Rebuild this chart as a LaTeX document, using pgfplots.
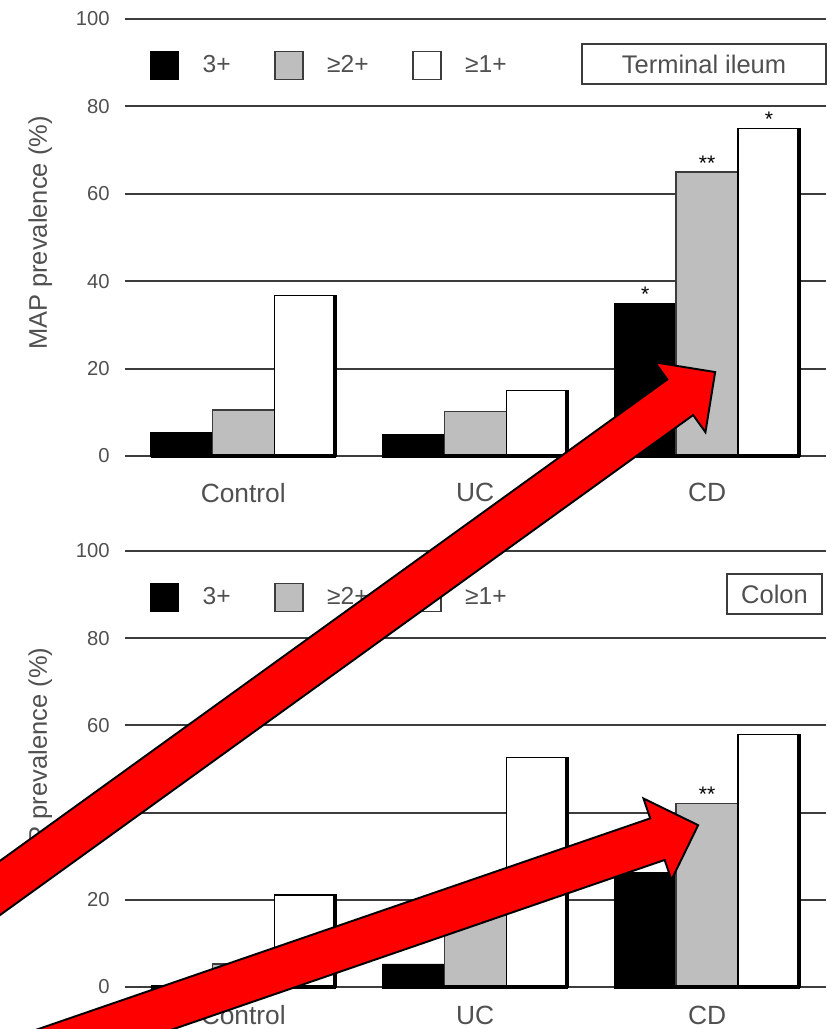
\documentclass[border=0pt]{standalone}
\usepackage{fontspec}
\setmainfont{Liberation Sans}
\usepackage{pgfplots}
\pgfplotsset{compat=1.18}
\usepackage{pgfplotstable}
\definecolor{txt}{HTML}{505050}
\definecolor{gridc}{HTML}{3C3C3C}
\definecolor{barg}{RGB}{190,190,190}

\pgfplotstableread{
x b g w
0 5.3 10.5 36.8
1 5 10.2 15
2 35 65 75
}\ileum
\pgfplotstableread{
x b g w
0 0 5.3 21.1
1 5.3 21.1 52.6
2 26.3 42.1 57.9
}\colon

\pgfplotsset{
 panel/.style={
   scale only axis, width=14.02cm,
   xmin=-0.51, xmax=2.513, ymin=0, ymax=100,
   ytick={0,20,...,100}, xtick={0,1,2}, xticklabels={Control,UC,CD},
   /pgf/number format/assume math mode=true,
   ymajorgrids, grid style={gridc, line width=1.2pt},
   axis line style={draw=none}, major tick length=0pt,
   tick label style={text=txt},
   yticklabel style={font=\fontsize{11.5}{13}\selectfont, inner sep=0pt, xshift=-0.3cm},
   xticklabel style={font=\fontsize{15}{17}\selectfont, inner sep=0pt},
   ylabel={MAP prevalence (\%)},
   ylabel style={font=\fontsize{14.5}{16}\selectfont, text=txt, at={(axis description cs:-0.121,0.51)}, anchor=center},
   clip=false,
   legend columns=3,
   legend style={draw=none, fill=none, inner sep=0pt, font=\fontsize{14}{16}\selectfont, text=txt,
     /tikz/every even column/.append style={column sep=0.8cm},
     /tikz/every odd column/.append style={column sep=0.4cm}},
   legend image code/.code={\draw[##1] (0cm,-0.28cm) rectangle (0.56cm,0.28cm);},
 }
}
\tikzset{
 boxlab/.style={draw=gridc, line width=1pt, minimum height=0.8cm, inner sep=0pt, text=txt, font=\fontsize{14.5}{16}\selectfont},
 star/.style={anchor=base, yshift=1pt, inner sep=0pt, font=\fontsize{12}{12}\selectfont}
}

\begin{document}
\begin{tikzpicture}
\useasboundingbox (0,0) rectangle (16.72cm,20.58cm);

% ---------- Terminal ileum ----------
\begin{axis}[panel, at={(2.5cm,11.46cm)}, anchor=south west, height=8.74cm,
  xticklabel style={yshift=-0.54cm},
  legend style={at={(axis description cs:0.0357,0.894)}, anchor=west}]
\addplot[ybar, bar width=0.267, bar shift=-0.267, fill=black, draw=black, forget plot] table[x=x,y=b]{\ileum};
\addplot[ybar, bar width=0.267, bar shift=0, fill=barg, draw=gridc, line width=0.7pt, forget plot] table[x=x,y=g]{\ileum};
\addplot[ybar, bar width=0.267, bar shift=0.267, fill=white, draw=black, line width=0.7pt, forget plot] table[x=x,y=w]{\ileum};
\addplot[ycomb, black, line width=2.2pt, mark=none, forget plot] table[x expr=\thisrow{x}+0.397, y=w]{\ileum};
\addplot[black, line width=2.2pt, forget plot] coordinates {(-0.4,0) (0.4,0)};
\addplot[black, line width=2.2pt, forget plot] coordinates {(0.6,0) (1.4,0)};
\addplot[black, line width=2.2pt, forget plot] coordinates {(1.6,0) (2.4,0)};
\addlegendimage{fill=black, draw=black}
\addlegendentry{3+}
\addlegendimage{fill=barg, draw=gridc, line width=0.8pt}
\addlegendentry{≥2+}
\addlegendimage{fill=white, draw=gridc, line width=0.8pt}
\addlegendentry{≥1+}
\node[boxlab, minimum width=4.88cm] at (axis description cs:0.826,0.897) {Terminal ileum};
\node[star] at (axis cs:1.733,35) {*};
\node[star] at (axis cs:2,65) {**};
\node[star] at (axis cs:2.267,75) {*};
\end{axis}

% ---------- Colon ----------
\begin{axis}[panel, at={(2.5cm,0.84cm)}, anchor=south west, height=8.72cm,
  xticklabel style={yshift=-0.37cm},
  legend style={at={(axis description cs:0.0357,0.894)}, anchor=west}]
\addplot[ybar, bar width=0.267, bar shift=-0.267, fill=black, draw=black, forget plot] table[x=x,y=b]{\colon};
\addplot[ybar, bar width=0.267, bar shift=0, fill=barg, draw=gridc, line width=0.7pt, forget plot] table[x=x,y=g]{\colon};
\addplot[ybar, bar width=0.267, bar shift=0.267, fill=white, draw=black, line width=0.7pt, forget plot] table[x=x,y=w]{\colon};
\addplot[ycomb, black, line width=2.2pt, mark=none, forget plot] table[x expr=\thisrow{x}+0.397, y=w]{\colon};
\addplot[black, line width=2.2pt, forget plot] coordinates {(-0.4,0) (0.4,0)};
\addplot[black, line width=2.2pt, forget plot] coordinates {(0.6,0) (1.4,0)};
\addplot[black, line width=2.2pt, forget plot] coordinates {(1.6,0) (2.4,0)};
\addlegendimage{fill=black, draw=black}
\addlegendentry{3+}
\addlegendimage{fill=barg, draw=gridc, line width=0.8pt}
\addlegendentry{≥2+}
\addlegendimage{fill=white, draw=gridc, line width=0.8pt}
\addlegendentry{≥1+}
\node[boxlab, minimum width=1.9cm] at (axis description cs:0.9265,0.901) {Colon};
\node[star] at (axis cs:2,42.1) {**};
\end{axis}

% ---------- red arrows ----------
\begin{scope}[x=0.02cm, y=-0.02cm, yshift=20.58cm]
\clip (0,0) rectangle (836,1029);
\filldraw[fill=red, draw=black, line width=1.1pt, line join=miter]
  (-118.0,1000.0) -- (693.0,415.0) -- (705.3,432.1) -- (715,372) -- (654.9,362.3) -- (667.2,379.4) -- (-143.8,964.4) -- cycle;
\filldraw[fill=red, draw=black, line width=1.1pt, line join=miter]
  (-186.5,1152.8) -- (664.5,859.8) -- (671.3,879.7) -- (698,825) -- (643.3,798.3) -- (650.1,818.2) -- (-200.9,1111.2) -- cycle;
\end{scope}
\end{tikzpicture}
\end{document}
